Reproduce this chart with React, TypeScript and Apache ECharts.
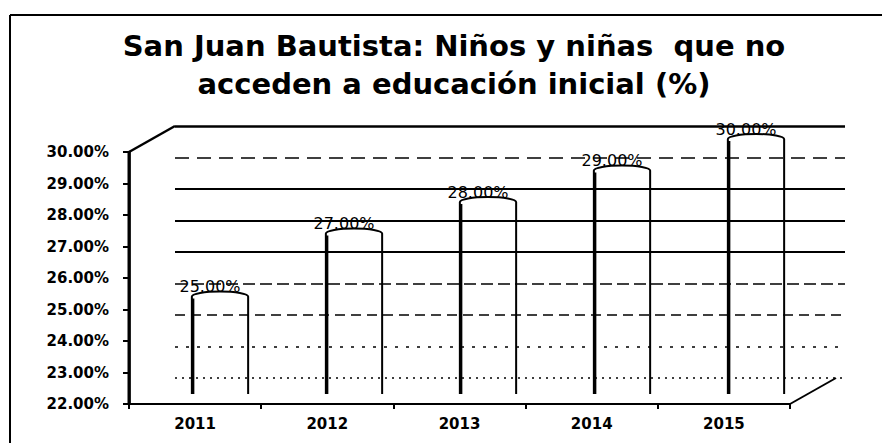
import React, { useEffect, useRef } from "react";
import * as echarts from "echarts";

const titleLines = ["San Juan Bautista: Niños y niñas  que no", "acceden a educación inicial (%)"];
const years = ["2011", "2012", "2013", "2014", "2015"];
const values = [25, 27, 28, 29, 30];
const yTicks = [22, 23, 24, 25, 26, 27, 28, 29, 30];
const Y_MIN = 22;
const Y_MAX = 30;
const Y_STEP = 1;

// layout (pixels)
const W = 882;
const H = 443;
const FRONT = { left: 129, right: 92, top: 152, bottom: 39 };
const MID = { left: 153, right: 59, top: 139, bottom: 52 };
const BACK = { left: 175, right: 37, top: 126, bottom: 65 };

const gridStyle: Record<number, { type: any; width: number }> = {
  22: { type: [2, 5], width: 1.5 },
  23: { type: [3, 8], width: 1.5 },
  24: { type: [10, 6], width: 1.5 },
  25: { type: [12, 5], width: 1.5 },
  26: { type: "solid", width: 2 },
  27: { type: "solid", width: 2 },
  28: { type: "solid", width: 2 },
  29: { type: [14, 8], width: 1.5 },
  30: { type: "solid", width: 2.5 },
};

const fmt = (v: number) => `${v.toFixed(2)}%`;

export default function App() {
  const ref = useRef<HTMLDivElement>(null);
  useEffect(() => {
    if (!ref.current) return;
    const chart = echarts.init(ref.current, null, { renderer: "svg" });
    const frontBottomY = H - FRONT.bottom;
    const frontRightX = W - FRONT.right;
    const backBottomY = H - BACK.bottom;
    const option: any = {
      animation: false,
      backgroundColor: "#fff",
      title: {
        text: titleLines.join("\n"),
        left: 449,
        top: 22,
        textAlign: "center",
        textStyle: {
          fontFamily: "DejaVu Sans",
          fontWeight: "bold",
          fontSize: 29,
          lineHeight: 38,
          color: "#000",
        },
      },
      grid: [{ ...FRONT }, { ...MID }, { ...BACK }],
      xAxis: [
        {
          gridIndex: 0,
          type: "category",
          data: years,
          axisLine: { show: true, onZero: false, lineStyle: { color: "#000", width: 2 } },
          axisTick: { show: true, length: 5, lineStyle: { color: "#000", width: 2 } },
          axisLabel: {
            margin: 12,
            color: "#000",
            fontFamily: "DejaVu Sans",
            fontWeight: "bold",
            fontSize: 15,
          },
          splitLine: { show: false },
        },
        { gridIndex: 1, type: "category", data: years, show: false },
        { gridIndex: 2, type: "value", min: 0, max: 1, show: false },
      ],
      yAxis: [
        {
          gridIndex: 0,
          type: "value",
          min: Y_MIN,
          max: Y_MAX,
          interval: Y_STEP,
          axisLine: { show: true, onZero: false, lineStyle: { color: "#000", width: 2.5 } },
          axisTick: { show: true, length: 6, lineStyle: { color: "#000", width: 2 } },
          axisLabel: {
            margin: 20,
            color: "#000",
            fontFamily: "DejaVu Sans",
            fontWeight: "bold",
            fontSize: 15,
            formatter: (v: number) => fmt(v),
          },
          splitLine: { show: false },
        },
        { gridIndex: 1, type: "value", min: Y_MIN, max: Y_MAX, interval: Y_STEP, show: false },
        { gridIndex: 2, type: "value", min: Y_MIN, max: Y_MAX, interval: Y_STEP, show: false },
      ],
      series: [
        {
          type: "line",
          xAxisIndex: 2,
          yAxisIndex: 2,
          data: [[0, Y_MIN]],
          symbol: "none",
          lineStyle: { opacity: 0 },
          silent: true,
          markLine: {
            silent: true,
            symbol: "none",
            label: { show: false },
            data: yTicks.map((v) => ({
              yAxis: v,
              lineStyle: { color: "#000", type: gridStyle[v].type, width: gridStyle[v].width },
            })),
          },
        },
        {
          type: "custom",
          xAxisIndex: 1,
          yAxisIndex: 1,
          data: values.map((v, i) => [i, v]),
          renderItem: (params: any, api: any) => {
            const idx = api.value(0);
            const val = api.value(1);
            const topPt = api.coord([idx, val]);
            const basePt = api.coord([idx, Y_MIN]);
            const bw = api.size([1, 0])[0] * 0.42;
            const cx = topPt[0];
            const top = topPt[1];
            const base = basePt[1] + 3;
            const l = cx - bw / 2;
            const r = cx + bw / 2;
            const ry = 5;
            return {
              type: "group",
              children: [
                {
                  type: "rect",
                  shape: { x: l, y: top - ry, width: bw, height: base - top + ry },
                  style: { fill: "#fff" },
                },
                {
                  type: "path",
                  shape: {
                    pathData: `M${l} ${base} L${l} ${top} A${bw / 2} ${ry} 0 0 1 ${r} ${top} L${r} ${base}`,
                  },
                  style: { fill: "none", stroke: "#000", lineWidth: 2 },
                },
                {
                  type: "line",
                  shape: { x1: l + 1, y1: top + 2, x2: l + 1, y2: base },
                  style: { stroke: "#000", lineWidth: 3 },
                },
                {
                  type: "text",
                  x: cx - 10,
                  y: top - 10,
                  style: {
                    text: fmt(val),
                    font: '16px "DejaVu Sans"',
                    fill: "#000",
                    align: "center",
                    verticalAlign: "middle",
                  },
                },
              ],
            };
          },
        },
      ],
      graphic: [
        { type: "line", z: 100, shape: { x1: 10, y1: 15, x2: W, y2: 15 }, style: { stroke: "#000", lineWidth: 2 } },
        { type: "line", z: 100, shape: { x1: 10, y1: 15, x2: 10, y2: H }, style: { stroke: "#000", lineWidth: 2 } },
        {
          type: "rect",
          z: 100,
          shape: { x: FRONT.left - 1.5, y: FRONT.top, width: 3, height: frontBottomY - FRONT.top + 1 },
          style: { fill: "#000" },
        },
        {
          type: "line",
          z: 100,
          shape: { x1: FRONT.left, y1: FRONT.top, x2: BACK.left, y2: BACK.top },
          style: { stroke: "#000", lineWidth: 2.5 },
        },
        {
          type: "line",
          z: 100,
          shape: { x1: frontRightX, y1: frontBottomY, x2: frontRightX + 46, y2: backBottomY },
          style: { stroke: "#000", lineWidth: 2 },
        },
      ],
    };
    chart.setOption(option);
    return () => chart.dispose();
  }, []);
  return (
    <div
      ref={ref}
      style={{ position: "fixed", left: 0, top: 0, width: W, height: H, background: "#fff" }}
    />
  );
}
